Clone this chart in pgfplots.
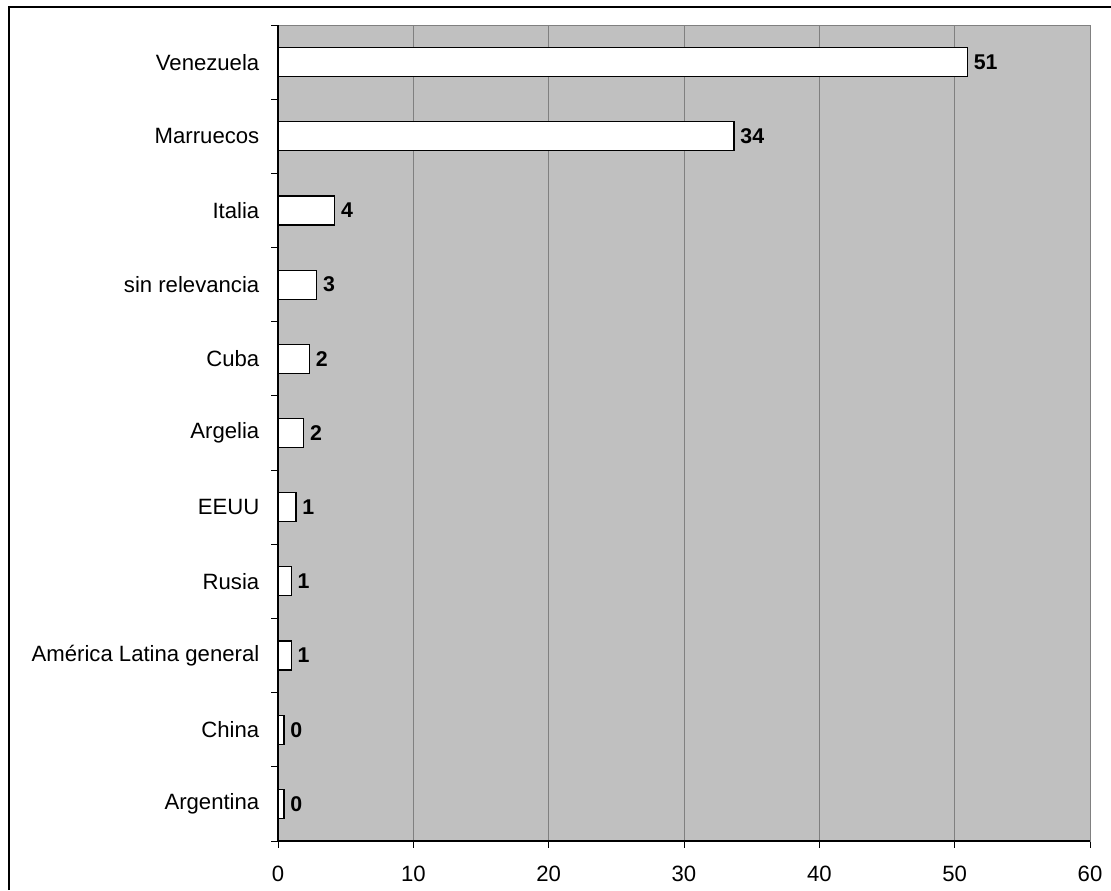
\documentclass[border=0pt]{standalone}
\usepackage{fontspec}
\setmainfont{Liberation Sans}
\usepackage{pgfplots}
\pgfplotsset{compat=1.18}
\definecolor{plotbg}{RGB}{192,192,192}
\definecolor{gridgray}{RGB}{128,128,128}
\begin{document}
\begin{tikzpicture}
\useasboundingbox (0pt,0pt) rectangle (833.25pt,-667.5pt);
\draw[line width=1.1pt] (6.75pt,-667.5pt) -- (6.75pt,-5.25pt) -- (833.25pt,-5.25pt);
\begin{axis}[
  at={(208.5pt,-630.75pt)}, anchor=south west,
  scale only axis, width=609pt, height=612pt,
  xmin=0, xmax=60, ymin=-0.5, ymax=10.5,
  xbar, bar width=21.75pt,
  axis background/.style={fill=plotbg},
  xtick={0,10,...,60},
  ytick={-0.5,0.5,...,10.5},
  xtick pos=left, ytick pos=left,
  yticklabels={Argentina,China,América Latina general,Rusia,EEUU,Argelia,Cuba,sin relevancia,Italia,Marruecos,Venezuela,{}},
  yticklabel style={yshift=27.8pt, xshift=-5.5pt},
  xticklabel style={yshift=-10.5pt},
  tick align=outside, major tick length=5pt,
  tick style={black, line width=0.75pt},
  xmajorgrids, major grid style={gridgray, line width=0.75pt},
  axis line style={gridgray, line width=0.75pt},
  ticklabel style={font=\fontsize{16.6}{20}\selectfont},
  /pgf/number format/assume math mode=true,
  nodes near coords={\pgfmathprintnumber[fixed,precision=0,assume math mode=true]{\pgfplotspointmeta}},
  every node near coord/.append style={font=\fontsize{16}{19}\selectfont\bfseries, anchor=west, xshift=1pt},
  clip=false,
]
\addplot[fill=white, draw=black, line width=0.9pt] coordinates {
  (0.44,0) (0.44,1) (0.98,2) (0.98,3) (1.33,4) (1.9,5) (2.32,6) (2.86,7) (4.19,8) (33.7,9) (50.94,10)
};
\draw[black, line width=0.9pt] (rel axis cs:0,0) -- (rel axis cs:0,1);
\draw[black, line width=0.9pt] (rel axis cs:0,0) -- (rel axis cs:1,0);
\end{axis}
\end{tikzpicture}
\end{document}
